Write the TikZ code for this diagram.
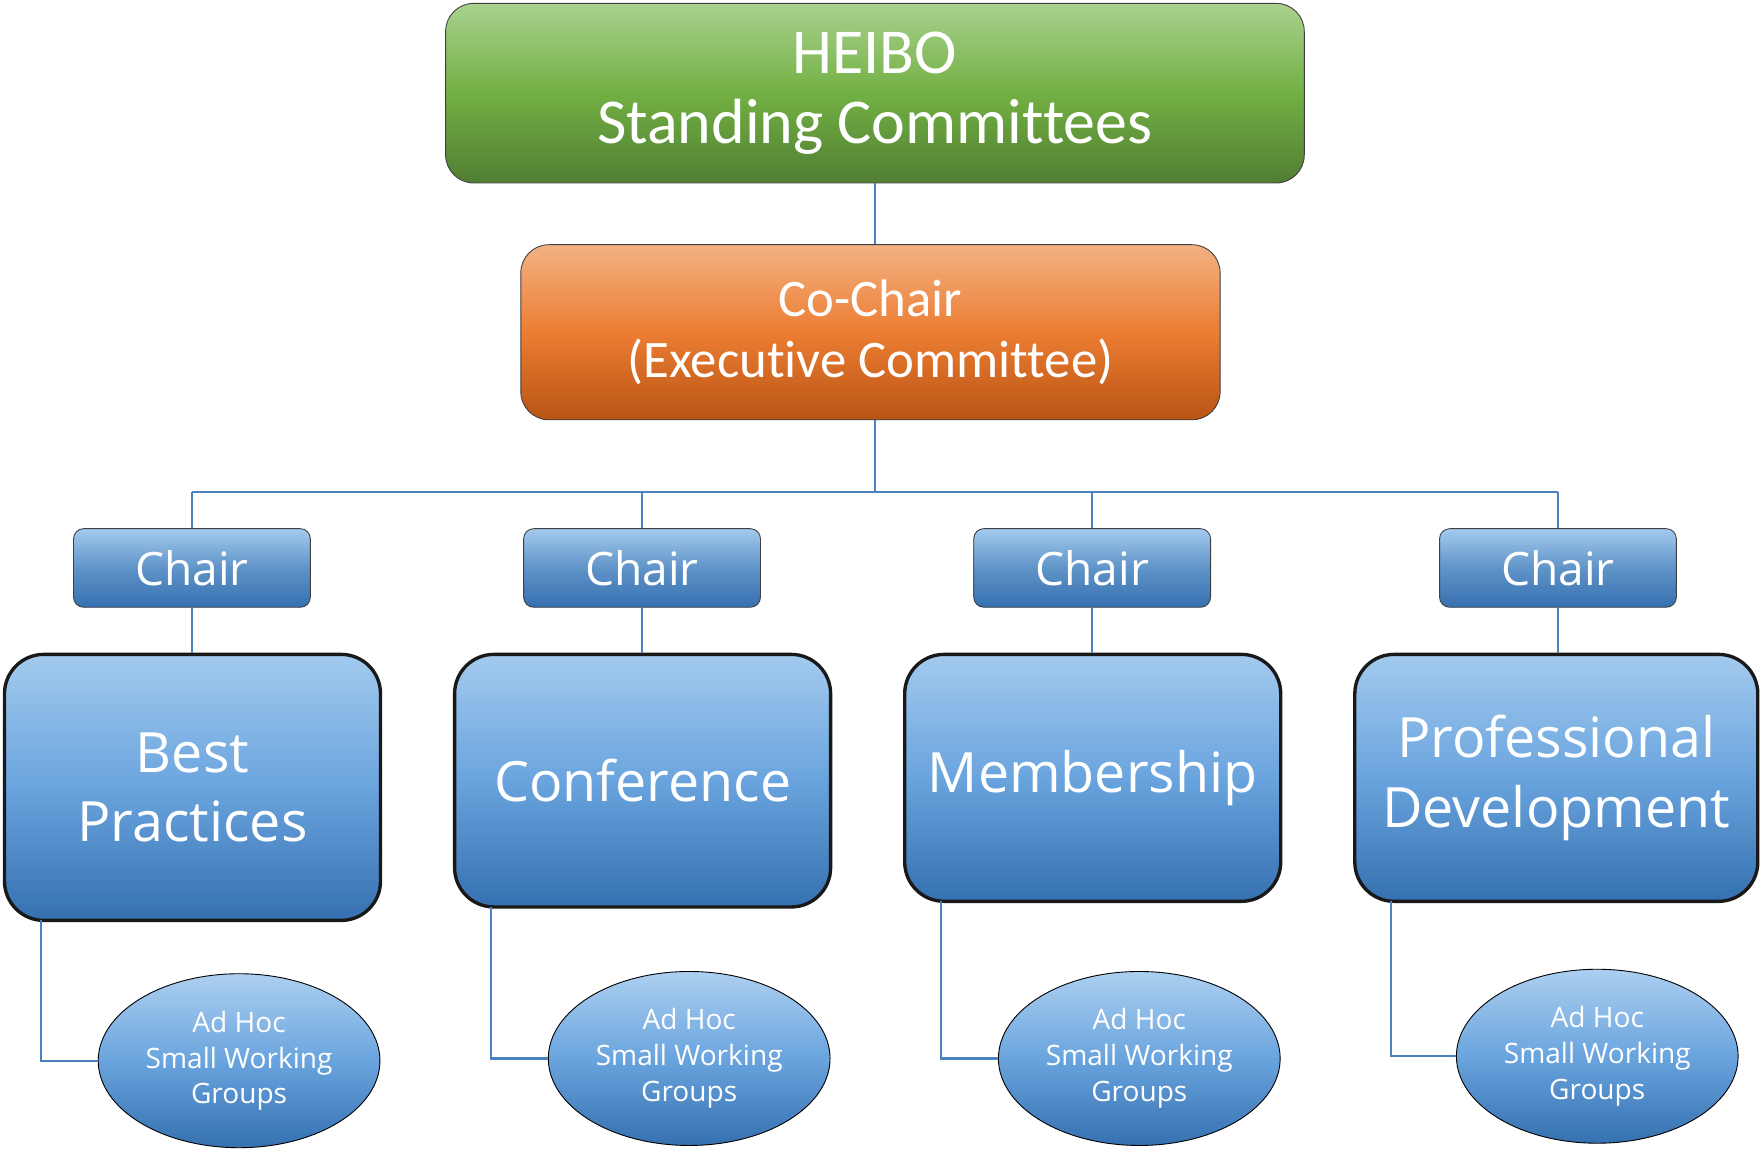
\documentclass[tikz,border=0pt]{standalone}
\usepackage{fontspec}
\setmainfont{Open Sans}
\newfontfamily\carlito[Ligatures={NoCommon}]{Carlito}
\usetikzlibrary{shapes.geometric}

\definecolor{greentop}{HTML}{A9D18E}
\definecolor{greenmid}{HTML}{72B043}
\definecolor{greenbot}{HTML}{517E33}
\definecolor{orangetop}{HTML}{F4B183}
\definecolor{orangemid}{HTML}{EC7D32}
\definecolor{orangebot}{HTML}{B85414}
\definecolor{bluetop}{HTML}{A3CAEE}
\definecolor{bluemid}{HTML}{6AA4DE}
\definecolor{bluebot}{HTML}{3570B0}
\definecolor{linkblue}{HTML}{4A82C0}

\begin{document}
\begin{tikzpicture}[x=1pt,y=-1pt,
    link/.style={draw=linkblue, line width=2pt},
    topbox/.style={rectangle, rounded corners=25pt, draw=black!75, line width=.8pt, inner sep=0pt, text=white, align=center},
    chairbox/.style={rectangle, rounded corners=9pt, draw=black!75, line width=.8pt, inner sep=0pt,
        top color=bluetop, bottom color=bluebot, middle color=bluemid!90!black,
        minimum width=211pt, minimum height=70pt, text=white, font=\fontsize{41}{48}\selectfont},
    combox/.style={rectangle, rounded corners=35pt, draw=black!90, line width=3pt, inner sep=0pt,
        top color=bluetop, bottom color=bluebot, middle color=bluemid,
        minimum width=335pt, text=white, align=center, font=\fontsize{49.5}{62}\selectfont},
    adhoc/.style={ellipse, draw=black, line width=.8pt, inner sep=0pt,
        top color=bluetop!90!white, bottom color=bluebot, middle color=bluemid,
        minimum width=251pt, minimum height=155pt, text=white, align=center, font=\fontsize{25}{32}\selectfont}]
    \useasboundingbox (0,0) rectangle (1568,1025);

    % top of the tree
    \node[topbox, top color=greentop, bottom color=greenbot, middle color=greenmid,
        minimum width=765pt, minimum height=160pt, font={\carlito\fontsize{57}{63}\selectfont}]
        (heibo) at (779.5,83) {HEIBO\\Standing Committees};
    \node[topbox, top color=orangetop, bottom color=orangebot, middle color=orangemid,
        minimum width=623pt, minimum height=156pt, font={\carlito\fontsize{47}{54}\selectfont}]
        (cochair) at (775.5,296) {Co-Chair\\(Executive Committee)};
    \coordinate (bus) at (779.5,438);

    % chairs
    \node[chairbox] (chairA) at (171,506) {Chair};
    \node[chairbox] (chairB) at (572,506) {Chair};
    \node[chairbox] (chairC) at (973,506) {Chair};
    \node[chairbox] (chairD) at (1388,506) {Chair};

    % committees
    \node[combox, minimum height=237pt] (best) at (171.5,701.5) {Best\\Practices};
    \node[combox, minimum height=225pt] (conf) at (572.5,695.5) {Conference};
    \node[combox, minimum height=220pt] (memb) at (973.5,693) {Membership};
    \node[combox, minimum height=220pt, minimum width=359pt] (prof) at (1386.5,693) {Professional\\Development};

    % working groups
    \node[adhoc] (adhocA) at (213,945) {Ad Hoc\\Small Working\\Groups};
    \node[adhoc] (adhocB) at (614,943) {Ad Hoc\\Small Working\\Groups};
    \node[adhoc] (adhocC) at (1015,943) {Ad Hoc\\Small Working\\Groups};
    \node[adhoc] (adhocD) at (1423,941) {Ad Hoc\\Small Working\\Groups};

    \draw[link] (heibo.south) -- (heibo.south |- cochair.north);
    \draw[link] (heibo.south |- cochair.south) -- (bus);
    \draw[link] (chairA.north |- bus) -- (chairD.north |- bus);
    \foreach \c/\b in {chairA/best, chairB/conf, chairC/memb, chairD/prof}{
        \draw[link] (\c.north) -- (\c.north |- bus);
        \draw[link] (\c.south) -- (\c.south |- \b.north);
    }
    \foreach \b/\a in {best/adhocA, conf/adhocB, memb/adhocC, prof/adhocD}{
        \draw[link] ([xshift=34pt, yshift=1.5pt]\b.south west) |- (\a.west);
    }
\end{tikzpicture}
\end{document}
